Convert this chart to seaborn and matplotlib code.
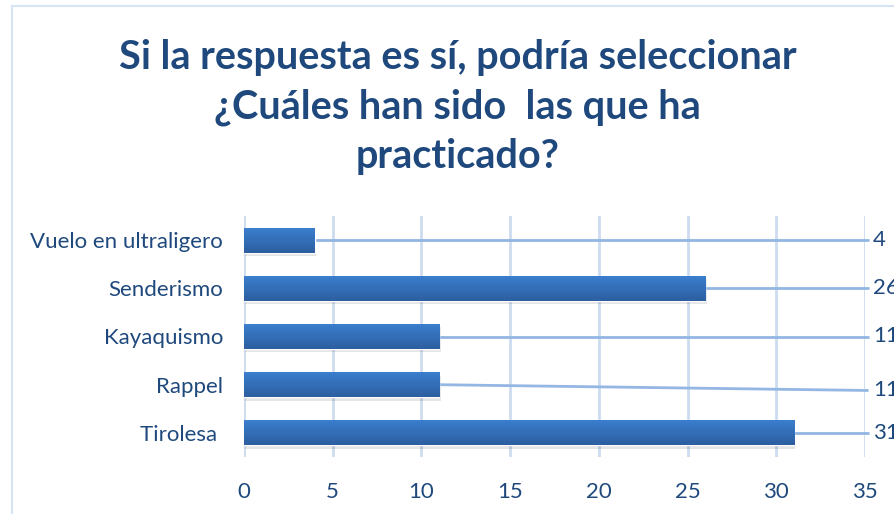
import numpy as np
import pandas as pd
import matplotlib
matplotlib.use("Agg")
import matplotlib.pyplot as plt
import seaborn as sns
from matplotlib.patches import Rectangle
from matplotlib.colors import LinearSegmentedColormap

categories = ["Vuelo en ultraligero", "Senderismo", "Kayaquismo", "Rappel", "Tirolesa "]
values = [4, 26, 11, 11, 31]
xticks = [0, 5, 10, 15, 20, 25, 30, 35]
title = "Si la respuesta es sí, podría seleccionar\n¿Cuáles han sido  las que ha\npracticado?"

sns.set_theme(style="white")
plt.rcParams['font.family'] = ['Lato', 'DejaVu Sans']

TXT = "#1F497D"
GRID = "#CCDCF0"
LEAD = "#93B6E2"

fig = plt.figure(figsize=(8.94, 5.14), dpi=100)
ax = fig.add_axes([244/894, 1-457/514, (865-244)/894, (457-216)/514])

df = pd.DataFrame({"cat": categories, "val": values})
sns.barplot(data=df, x="val", y="cat", orient="h", color="#3470BA", width=0.52,
            ax=ax, zorder=3, saturation=1)

ax.set_xlim(0, 35)
ax.set_ylim(len(categories) - 0.5, -0.5)
ax.set_xticks(xticks)
ax.set_xticklabels([str(t) for t in xticks])
ax.set_xlabel("")
ax.set_ylabel("")
for s in ax.spines.values():
    s.set_visible(False)
ax.grid(False)
for t in xticks:
    ax.axvline(t, color=GRID, lw=2, zorder=1)
ax.tick_params(axis="both", length=0, labelsize=16, colors=TXT)
ax.tick_params(axis="y", pad=15)
ax.tick_params(axis="x", pad=18)

# gradient fill + shadow on bars
grad = np.linspace(0, 1, 64).reshape(-1, 1)
cmap = LinearSegmentedColormap.from_list("g", ["#3B7FD0", "#2C5FA0"])
for p in list(ax.patches):
    x0, y0 = p.get_x(), p.get_y()
    w, h = p.get_width(), p.get_height()
    shadow = Rectangle((x0 + 0.08, y0 + 0.07), w, h, facecolor="#000000", alpha=0.10,
                       edgecolor="none", zorder=2)
    ax.add_patch(shadow)
    im = ax.imshow(grad, extent=(x0, x0 + w, y0 + h, y0), aspect="auto", cmap=cmap,
                   zorder=4, interpolation="bilinear")
    im.set_clip_path(p)

# leader lines + labels
offsets = [0.0, 0.0, 0.0, 0.12, 0.0]
for i, v in enumerate(values):
    yl = i + offsets[i]
    ax.plot([v, 35.2], [i, yl], color=LEAD, lw=2, zorder=2, clip_on=False,
            solid_capstyle="butt")
    ax.text(35.45, yl, str(v), ha="left", va="center", fontsize=16, color=TXT,
            clip_on=False)

fig.text(0.512, 1 - 107/514, title, ha="center", va="center", fontsize=28.5,
         fontweight="bold", color=TXT, linespacing=1.42)

# chart frame
fig.add_artist(Rectangle((12/894, -0.1), 1.2, 1 - 6/514 + 0.1, transform=fig.transFigure,
                         facecolor="none", edgecolor="#D6E4F5", lw=1.5))

fig.savefig("out.png", dpi=100)
